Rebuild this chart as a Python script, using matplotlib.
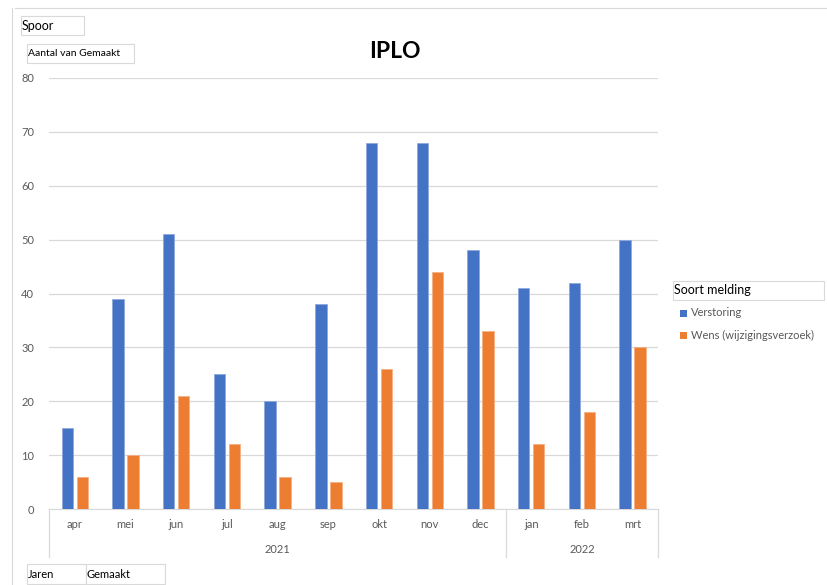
import numpy as np
import matplotlib.pyplot as plt
from matplotlib.patches import Rectangle
from matplotlib.transforms import blended_transform_factory

plt.rcParams['font.family'] = ['Lato', 'DejaVu Sans']

# Data
months = ['apr', 'mei', 'jun', 'jul', 'aug', 'sep', 'okt', 'nov', 'dec', 'jan', 'feb', 'mrt']
years = ['2021', '2022']
months_per_year = [9, 3]
verstoring = [15, 39, 51, 25, 20, 38, 68, 68, 48, 41, 42, 50]
wens = [6, 10, 21, 12, 6, 5, 26, 44, 33, 12, 18, 30]
series_names = ['Verstoring', 'Wens (wijzigingsverzoek)']
colors = ['#4472C4', '#ED7D31']

W, H = 828, 585
fig = plt.figure(figsize=(W / 100, H / 100), dpi=100)

def px(x, y):
    # pixel coords (top-left origin) -> figure fraction
    return x / W, 1 - y / H

# plot area
l, r, t, b = 49.5, 658, 78, 509
ax = fig.add_axes([l / W, 1 - b / H, (r - l) / W, (b - t) / H])

x = np.arange(len(months))
bw = 0.225
off = 0.148
ax.bar(x - off, verstoring, bw, color=colors[0], edgecolor='#8FAADC', linewidth=0.6, zorder=3)
ax.bar(x + off, wens, bw, color=colors[1], edgecolor='#F4B183', linewidth=0.6, zorder=3)

ax.set_xlim(-0.5, len(months) - 0.5)
ax.set_ylim(0, 80)
ax.set_yticks(np.arange(0, 81, 10))
ax.yaxis.grid(True, color='#D9D9D9', linewidth=0.9, zorder=0)
ax.tick_params(axis='y', length=0, labelsize=8, labelcolor='#595959', pad=11)
ax.set_xticks([])
for s in ['top', 'right', 'left']:
    ax.spines[s].set_visible(False)
ax.spines['bottom'].set_color('#D9D9D9')

# multi-level category axis
trans = blended_transform_factory(ax.transData, ax.transAxes)
for i, m in enumerate(months):
    ax.text(i, -0.035, m, transform=trans, ha='center', va='center',
            fontsize=8, color='#595959')
sep_depth = -48 / (b - t)
start = -0.5
bounds = [start]
for y, n in zip(years, months_per_year):
    ax.text(start + n / 2, -0.093, y, transform=trans, ha='center', va='center',
            fontsize=8, color='#595959')
    start += n
    bounds.append(start)
for xb in bounds:
    ax.plot([xb, xb], [0, sep_depth], transform=trans, color='#D9D9D9',
            linewidth=0.9, clip_on=False)

# title
fig.text(*px(395, 52), 'IPLO', ha='center', va='center', fontsize=16.5, fontweight='bold')

# outer chart border
fig.add_artist(plt.Line2D([15 / W, 1], [1 - 8 / H] * 2, color='#D9D9D9', linewidth=0.8))
fig.add_artist(plt.Line2D([12 / W] * 2, [0, 1 - 8 / H], color='#D9D9D9', linewidth=0.8))

def field_box(x0, y0, x1, y1, label, size):
    fx, fy = px(x0, y1)
    fig.add_artist(Rectangle((fx, fy), (x1 - x0) / W, (y1 - y0) / H,
                             transform=fig.transFigure, facecolor='white',
                             edgecolor='#D9D9D9', linewidth=0.8))
    fig.text(*px(x0 + 1, (y0 + y1) / 2), label, ha='left', va='center',
             fontsize=size, color='black')

field_box(21, 16, 84, 35, 'Spoor', 9)
field_box(27, 44, 134, 63, 'Aantal van Gemaakt', 7.5)
field_box(27, 564, 86, 584, 'Jaren', 8)
field_box(86, 564, 165, 584, 'Gemaakt', 8)
field_box(673, 281, 824, 300, 'Soort melding', 9)

# legend
for i, (name, c) in enumerate(zip(series_names, colors)):
    yc = 313 + 22 * i
    fx, fy = px(680, yc + 3.5)
    fig.add_artist(Rectangle((fx, fy), 7 / W, 7 / H, transform=fig.transFigure,
                             facecolor=c, edgecolor='none'))
    fig.text(*px(691, yc), name, ha='left', va='center', fontsize=8, color='#595959')

fig.savefig('out.png', dpi=100)
